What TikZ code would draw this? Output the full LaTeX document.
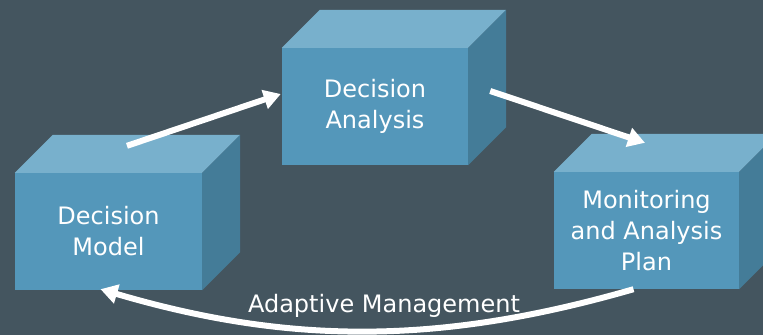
\documentclass[tikz,border=0pt]{standalone}
\usepackage{fontspec}
\setmainfont{DejaVu Sans}
\usetikzlibrary{calc,arrows.meta}
\definecolor{bg}{RGB}{68,85,95}
\definecolor{frontc}{RGB}{84,151,186}
\definecolor{topc}{RGB}{120,176,204}
\definecolor{sidec}{RGB}{68,124,152}
\begin{document}
\begin{tikzpicture}[x=1pt,y=-1pt,
  face/.style={fill=frontc, minimum height=117pt, inner sep=0pt, text=white,
    font=\fontsize{24}{31}\selectfont, align=center},
  flow/.style={draw=white, line width=6pt, -{Triangle[length=17pt,width=19pt]}},
  lbl/.style={text=white, font=\fontsize{24}{31}\selectfont, inner sep=0pt}]
\useasboundingbox (0,0) rectangle (763,335);
\clip (0,0) rectangle (763,335);
\fill[bg] (0,0) rectangle (763,335);
% front faces
\node[face, minimum width=186pt] (DA) at (375,106.5) {Decision\\Analysis};
\node[face, minimum width=187pt] (DM) at (108.5,231.5) {Decision\\Model};
\node[face, minimum width=185pt] (MP) at (646.5,230.5) {Monitoring\\and Analysis\\Plan};
% top and side faces
\foreach \n in {DA,DM,MP} {
  \fill[topc] (\n.north west) -- (\n.north east) -- ++(38,-38)
     -- ($(\n.north west)+(38,-38)$) -- cycle;
  \fill[sidec] (\n.north east) -- ++(38,-38) -- ($(\n.south east)+(38,-38)$)
     -- (\n.south east) -- cycle;
}
% connectors
\draw[flow] ($(DM.north)+(18.5,-27)$) -- ($(DA.west)+(-1,-12.5)$);
\draw[flow] ($(DA.east)+(22,-15.5)$) -- ($(MP.north)+(-1.5,-29)$);
\draw[flow] ($(MP.south)+(-13,0)$) .. controls (440,345) and (290,345) .. ($(DM.south)+(-8,-1)$);
\node[lbl, anchor=base] (AM) at (384,312) {Adaptive Management};
\end{tikzpicture}
\end{document}
